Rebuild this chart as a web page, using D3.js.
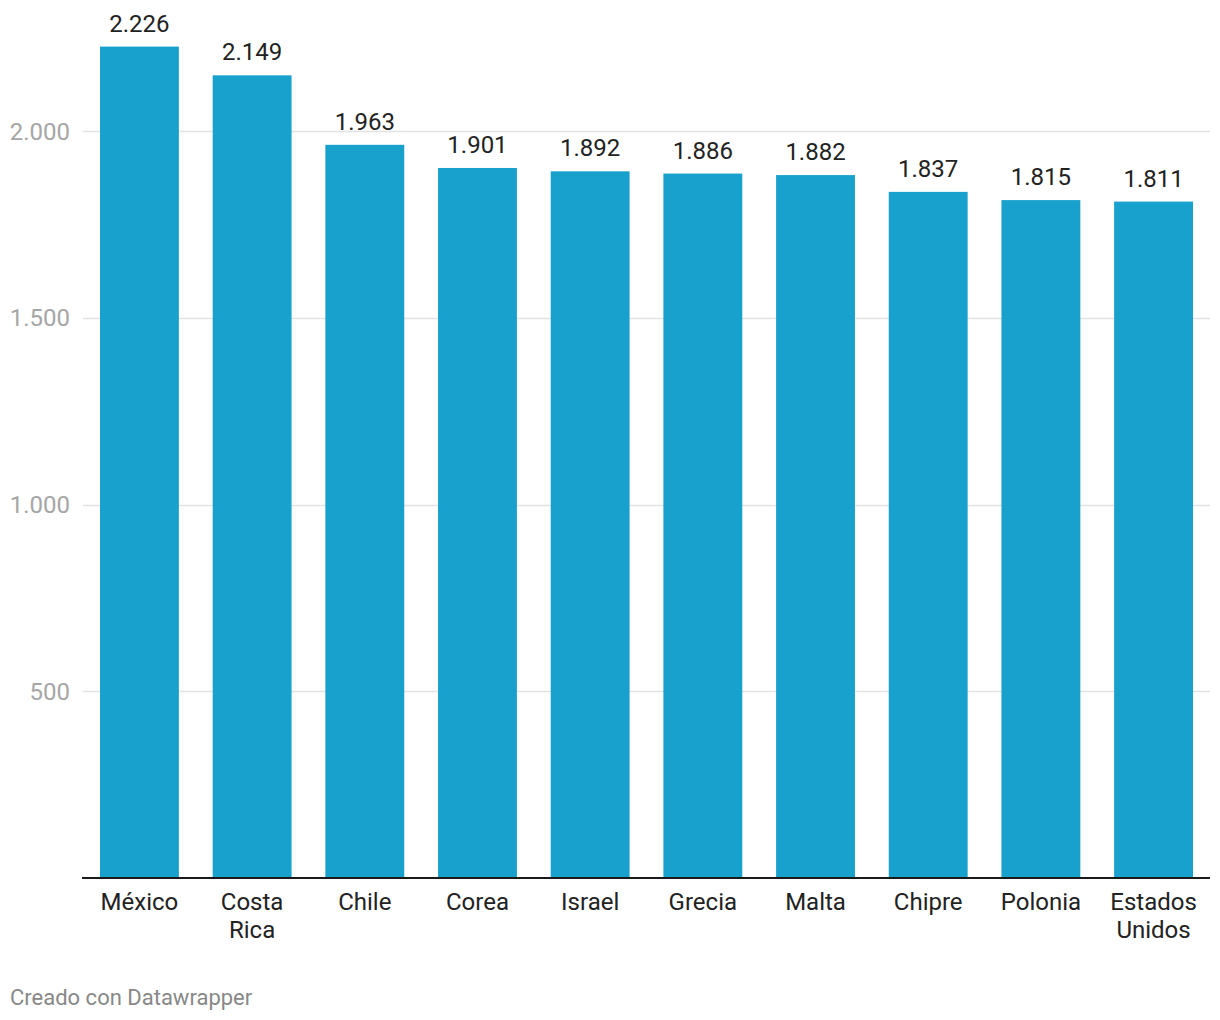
<!DOCTYPE html>
<html>
<head>
<meta charset="utf-8">
<script src="https://cdn.jsdelivr.net/npm/d3@7"></script>
<style>
  html, body { margin: 0; padding: 0; background: #fff; }
  svg { display: block; font-family: Roboto, "Noto Sans", sans-serif; }
</style>
</head>
<body>
<svg id="chart" width="1220" height="1020"></svg>
<script>
const categories = ["México", "Costa Rica", "Chile", "Corea", "Israel", "Grecia", "Malta", "Chipre", "Polonia", "Estados Unidos"];
const values = [2226, 2149, 1963, 1901, 1892, 1886, 1882, 1837, 1815, 1811];
const tickValues = [500, 1000, 1500, 2000];
const footer = "Creado con Datawrapper";

const fmt = v => d3.format(",")(v).replace(/,/g, ".");

const svg = d3.select("#chart");
const x = d3.scaleBand().domain(categories).range([100, 1193]).paddingInner(0.3).paddingOuter(0);
const y = d3.scaleLinear().domain([0, 2000]).range([878, 131]);

// gridlines
svg.append("g").selectAll("line").data(tickValues).join("line")
  .attr("x1", 83).attr("x2", 1210)
  .attr("y1", d => Math.round(y(d)) + 0.5).attr("y2", d => Math.round(y(d)) + 0.5)
  .attr("stroke", "#e3e3e3").attr("stroke-width", 1.3);

// y tick labels
svg.append("g").selectAll("text").data(tickValues).join("text")
  .attr("x", 70).attr("y", d => y(d))
  .attr("dy", "0.36em")
  .attr("text-anchor", "end")
  .attr("fill", "#a6a6a6")
  .attr("font-size", 24)
  .text(d => fmt(d));

// bars
svg.append("g").selectAll("rect").data(values).join("rect")
  .attr("x", (d, i) => x(categories[i]))
  .attr("width", x.bandwidth())
  .attr("y", d => y(d))
  .attr("height", d => y(0) - y(d))
  .attr("fill", "#18a1cd");

// value labels
svg.append("g").selectAll("text").data(values).join("text")
  .attr("x", (d, i) => x(categories[i]) + x.bandwidth() / 2)
  .attr("y", d => y(d) - 15)
  .attr("text-anchor", "middle")
  .attr("fill", "#222")
  .attr("font-size", 24)
  .text(d => fmt(d));

// baseline axis
svg.append("line")
  .attr("x1", 82).attr("x2", 1210)
  .attr("y1", 878).attr("y2", 878)
  .attr("stroke", "#1a1a1a").attr("stroke-width", 2);

// category labels
const cat = svg.append("g").selectAll("text").data(categories).join("text")
  .attr("x", d => x(d) + x.bandwidth() / 2)
  .attr("y", 910)
  .attr("text-anchor", "middle")
  .attr("fill", "#222")
  .attr("font-size", 24);
cat.each(function(d) {
  const words = d.split(" ");
  const t = d3.select(this);
  words.forEach((w, i) => {
    t.append("tspan").attr("x", x(d) + x.bandwidth() / 2).attr("dy", i === 0 ? 0 : 28).text(w);
  });
});

// footer
svg.append("text")
  .attr("x", 10).attr("y", 1005)
  .attr("fill", "#888")
  .attr("font-size", 22)
  .text(footer);
</script>
</body>
</html>
